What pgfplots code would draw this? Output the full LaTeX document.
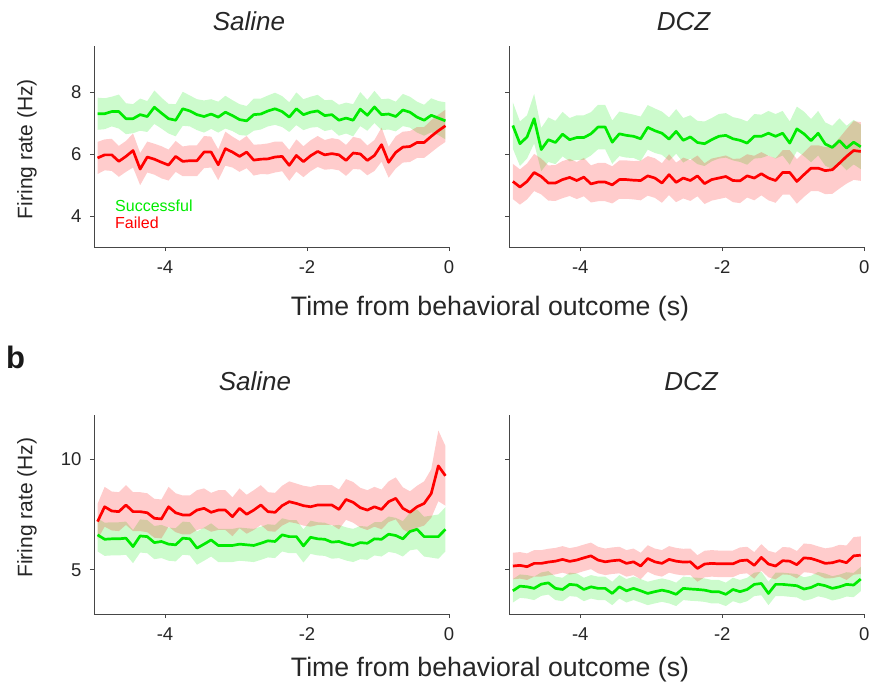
\documentclass[border=0pt]{standalone}
\usepackage{fontspec}
\setmainfont{Liberation Sans}
\usepackage{pgfplots}
\pgfplotsset{compat=1.18}
\usepackage{pgfplotstable}
\definecolor{sgreen}{RGB}{0,235,0}
\definecolor{fred}{RGB}{255,0,0}
\definecolor{axgray}{RGB}{70,70,70}

\pgfplotstableread{
x g gs r rs
-4.95 7.31 0.52 5.88 0.52
-4.85 7.31 0.50 5.98 0.50
-4.75 7.38 0.48 5.98 0.52
-4.65 7.38 0.55 5.77 0.50
-4.55 7.15 0.50 5.93 0.50
-4.45 7.15 0.47 6.12 0.55
-4.35 7.28 0.52 5.52 0.52
-4.25 7.22 0.50 5.91 0.50
-4.15 7.52 0.54 5.84 0.50
-4.05 7.33 0.50 5.74 0.52
-3.95 7.15 0.48 5.65 0.50
-3.85 7.10 0.52 5.93 0.50
-3.75 7.47 0.55 5.77 0.48
-3.65 7.40 0.50 5.79 0.50
-3.55 7.28 0.50 5.79 0.50
-3.45 7.22 0.52 6.07 0.52
-3.35 7.30 0.48 6.07 0.50
-3.25 7.20 0.50 5.66 0.50
-3.15 7.36 0.53 6.18 0.55
-3.05 7.25 0.50 6.07 0.50
-2.95 7.12 0.50 5.93 0.50
-2.85 7.08 0.48 6.07 0.52
-2.75 7.28 0.52 5.81 0.50
-2.65 7.30 0.50 5.84 0.48
-2.55 7.40 0.50 5.85 0.50
-2.45 7.47 0.52 5.91 0.50
-2.35 7.38 0.50 5.93 0.48
-2.25 7.20 0.48 5.64 0.50
-2.15 7.47 0.53 5.96 0.52
-2.05 7.28 0.50 5.76 0.50
-1.95 7.36 0.50 5.95 0.50
-1.85 7.40 0.52 6.09 0.50
-1.75 7.25 0.50 5.98 0.48
-1.65 7.28 0.48 6.02 0.50
-1.55 7.10 0.50 5.98 0.50
-1.45 7.17 0.50 5.80 0.50
-1.35 7.10 0.52 6.04 0.52
-1.25 7.46 0.55 6.01 0.50
-1.15 7.26 0.50 5.80 0.48
-1.05 7.53 0.52 5.96 0.50
-0.95 7.28 0.50 6.31 0.55
-0.85 7.30 0.50 5.74 0.50
-0.75 7.22 0.48 6.06 0.52
-0.65 7.43 0.52 6.23 0.50
-0.55 7.36 0.50 6.25 0.50
-0.45 7.20 0.50 6.38 0.50
-0.35 7.10 0.50 6.38 0.50
-0.25 7.26 0.55 6.58 0.52
-0.15 7.17 0.55 6.76 0.52
-0.05 7.08 0.60 6.92 0.52
}\tabTL

\pgfplotstableread{
x g gs r rs
-4.95 6.93 0.75 5.12 0.57
-4.85 6.34 0.72 4.94 0.57
-4.75 6.56 0.70 5.12 0.58
-4.65 7.15 0.80 5.41 0.60
-4.55 6.15 0.70 5.28 0.58
-4.45 6.47 0.72 5.07 0.57
-4.35 6.38 0.70 5.07 0.58
-4.25 6.65 0.72 5.18 0.60
-4.15 6.47 0.70 5.25 0.60
-4.05 6.54 0.72 5.15 0.60
-3.95 6.54 0.72 5.26 0.62
-3.85 6.66 0.70 5.04 0.60
-3.75 6.88 0.72 5.10 0.62
-3.65 6.88 0.72 5.10 0.62
-3.55 6.39 0.70 5.01 0.60
-3.45 6.66 0.72 5.18 0.62
-3.35 6.61 0.72 5.18 0.62
-3.25 6.58 0.70 5.16 0.62
-3.15 6.50 0.72 5.15 0.64
-3.05 6.87 0.72 5.30 0.64
-2.95 6.76 0.72 5.23 0.64
-2.85 6.68 0.70 5.07 0.64
-2.75 6.49 0.70 5.34 0.66
-2.65 6.74 0.72 5.09 0.64
-2.55 6.45 0.72 5.23 0.66
-2.45 6.56 0.70 5.15 0.66
-2.35 6.38 0.70 5.30 0.66
-2.25 6.34 0.72 5.05 0.66
-2.15 6.47 0.70 5.18 0.68
-2.05 6.58 0.72 5.23 0.68
-1.95 6.61 0.72 5.28 0.68
-1.85 6.50 0.70 5.15 0.70
-1.75 6.45 0.70 5.14 0.72
-1.65 6.36 0.70 5.30 0.70
-1.55 6.58 0.72 5.23 0.72
-1.45 6.58 0.70 5.37 0.70
-1.35 6.68 0.72 5.23 0.72
-1.25 6.58 0.72 5.15 0.72
-1.15 6.68 0.72 5.41 0.72
-1.05 6.36 0.70 5.41 0.72
-0.95 6.82 0.72 5.12 0.72
-0.85 6.66 0.72 5.34 0.72
-0.75 6.44 0.70 5.55 0.74
-0.65 6.68 0.72 5.55 0.74
-0.55 6.33 0.70 5.47 0.76
-0.45 6.22 0.70 5.50 0.78
-0.35 6.44 0.72 5.71 0.82
-0.25 6.20 0.72 5.93 0.88
-0.15 6.39 0.72 6.12 0.95
-0.05 6.24 0.72 6.09 0.95
}\tabTR

\pgfplotstableread{
x g gs r rs
-4.95 6.58 0.75 7.18 0.80
-4.85 6.38 0.75 7.85 0.90
-4.75 6.40 0.75 7.66 0.88
-4.65 6.40 0.75 7.63 0.88
-4.55 6.43 0.75 7.93 0.90
-4.45 6.05 0.75 7.63 0.88
-4.35 6.53 0.75 7.63 0.88
-4.25 6.50 0.75 7.58 0.88
-4.15 6.23 0.75 7.33 0.88
-4.05 6.28 0.75 7.30 0.88
-3.95 6.16 0.75 7.85 0.90
-3.85 6.13 0.75 7.58 0.88
-3.75 6.43 0.75 7.48 0.88
-3.65 6.40 0.75 7.48 0.88
-3.55 5.98 0.75 7.70 0.90
-3.45 6.16 0.75 7.78 0.90
-3.35 6.35 0.75 7.60 0.88
-3.25 6.10 0.75 7.70 0.90
-3.15 6.10 0.75 7.70 0.90
-3.05 6.10 0.75 7.40 0.88
-2.95 6.16 0.75 7.78 0.90
-2.85 6.13 0.75 7.51 0.88
-2.75 6.10 0.75 7.70 0.90
-2.65 6.20 0.75 7.93 0.90
-2.55 6.31 0.75 7.63 0.88
-2.45 6.28 0.75 7.60 0.88
-2.35 6.58 0.75 7.90 0.90
-2.25 6.50 0.75 8.08 0.92
-2.15 6.50 0.75 8.00 0.90
-2.05 6.08 0.75 7.90 0.90
-1.95 6.47 0.75 7.85 0.90
-1.85 6.40 0.75 7.93 0.90
-1.75 6.38 0.75 7.93 0.90
-1.65 6.25 0.75 7.93 0.90
-1.55 6.28 0.75 7.73 0.90
-1.45 6.17 0.75 8.18 0.92
-1.35 6.10 0.75 8.05 0.92
-1.25 6.23 0.75 7.81 0.90
-1.15 6.20 0.75 7.70 0.90
-1.05 6.40 0.75 7.85 0.90
-0.95 6.38 0.78 7.73 0.90
-0.85 6.61 0.80 8.08 0.92
-0.75 6.55 0.80 8.23 0.95
-0.65 6.40 0.80 7.78 0.95
-0.55 6.73 0.85 7.60 0.95
-0.45 6.83 0.90 7.85 0.95
-0.35 6.50 0.90 8.00 1.00
-0.25 6.50 0.95 8.45 1.10
-0.15 6.50 1.00 9.70 1.60
-0.05 6.83 1.00 9.25 1.35
}\tabBL

\pgfplotstableread{
x g gs r rs
-4.95 4.05 0.53 5.17 0.60
-4.85 4.26 0.53 5.20 0.60
-4.75 4.23 0.53 5.14 0.60
-4.65 4.16 0.53 5.29 0.60
-4.55 4.35 0.53 5.29 0.60
-4.45 4.41 0.53 5.35 0.60
-4.35 4.16 0.53 5.39 0.60
-4.25 4.11 0.53 5.47 0.60
-4.15 4.34 0.53 5.38 0.60
-4.05 4.31 0.53 5.44 0.60
-3.95 4.11 0.53 5.54 0.60
-3.85 4.23 0.53 5.63 0.60
-3.75 4.16 0.53 5.44 0.60
-3.65 4.16 0.53 5.36 0.60
-3.55 3.93 0.53 5.41 0.60
-3.45 4.23 0.53 5.44 0.60
-3.35 4.05 0.53 5.29 0.60
-3.25 4.16 0.53 5.36 0.60
-3.15 4.05 0.53 5.17 0.60
-3.05 3.93 0.53 5.51 0.60
-2.95 4.01 0.53 5.36 0.60
-2.85 4.08 0.53 5.29 0.60
-2.75 4.01 0.53 5.47 0.60
-2.65 3.89 0.53 5.39 0.60
-2.55 4.16 0.53 5.35 0.60
-2.45 4.13 0.53 5.36 0.60
-2.35 4.11 0.53 5.06 0.60
-2.25 4.08 0.53 5.26 0.60
-2.15 4.01 0.53 5.29 0.60
-2.05 4.01 0.53 5.27 0.60
-1.95 3.89 0.53 5.27 0.60
-1.85 4.11 0.53 5.27 0.60
-1.75 4.01 0.53 5.41 0.60
-1.65 4.11 0.53 5.44 0.60
-1.55 4.34 0.53 5.20 0.60
-1.45 4.38 0.53 5.56 0.60
-1.35 3.93 0.53 5.26 0.60
-1.25 4.34 0.53 5.17 0.60
-1.15 4.34 0.53 5.41 0.62
-1.05 4.31 0.53 5.39 0.62
-0.95 4.28 0.53 5.23 0.62
-0.85 4.13 0.53 5.54 0.65
-0.75 4.20 0.53 5.51 0.65
-0.65 4.35 0.55 5.41 0.65
-0.55 4.28 0.55 5.29 0.68
-0.45 4.16 0.55 5.32 0.70
-0.35 4.23 0.55 5.41 0.72
-0.25 4.34 0.55 5.32 0.78
-0.15 4.31 0.55 5.63 0.85
-0.05 4.58 0.55 5.66 0.85
}\tabBR

\pgfplotsset{
  panel/.style={
    scale only axis, anchor=south west,
    width=355pt,
    xmin=-5, xmax=0, xtick={-4,-2,0},
    axis lines*=left,
    axis line style={draw=axgray, line width=0.9pt},
    tick style={draw=axgray, line width=0.9pt},
    tick align=outside, major tick length=4pt,
    xtick pos=bottom, ytick pos=left,
    tick label style={font=\fontsize{18.5}{21}\selectfont, text=black!85},
    /pgf/number format/assume math mode=true,
    yticklabel shift=5pt, xticklabel shift=6pt,
  },
}
\newcommand\drawpanel[1]{%
  \addplot[draw=none, stack plots=y, forget plot] table[x=x, y expr=\thisrow{g}-\thisrow{gs}] {#1};
  \addplot[draw=none, fill=sgreen, fill opacity=0.2, stack plots=y, forget plot] table[x=x, y expr=2*\thisrow{gs}] {#1} \closedcycle;
  \addplot[draw=none, stack plots=y, forget plot] table[x=x, y expr=\thisrow{r}-\thisrow{rs}-\thisrow{g}-\thisrow{gs}] {#1};
  \addplot[draw=none, fill=fred, fill opacity=0.2, stack plots=y, forget plot] table[x=x, y expr=2*\thisrow{rs}] {#1} \closedcycle;
  \addplot[stack plots=false, sgreen, line width=2.7pt, line join=round] table[x=x, y=g] {#1};
  \addplot[stack plots=false, fred, line width=2.7pt, line join=round] table[x=x, y=r] {#1};
}

\begin{document}
\begin{tikzpicture}
\path[use as bounding box] (0pt,0pt) rectangle (871pt,-686pt);

\begin{axis}[panel, at={(94pt,-247pt)}, height=201pt, ymin=3, ymax=9.5, ytick={4,6,8}]
\drawpanel{\tabTL}
\end{axis}

\begin{axis}[panel, at={(509.3pt,-247pt)}, height=201pt, ymin=3, ymax=9.5, ytick={4,6,8}, yticklabels={}]
\drawpanel{\tabTR}
\end{axis}

\begin{axis}[panel, at={(94pt,-614pt)}, height=199pt, ymin=3, ymax=12, ytick={5,10}]
\drawpanel{\tabBL}
\end{axis}

\begin{axis}[panel, at={(509.3pt,-614pt)}, height=199pt, ymin=3, ymax=12, ytick={5,10}, yticklabels={}]
\drawpanel{\tabBR}
\end{axis}

\node[anchor=base, font=\fontsize{26}{30}\selectfont\itshape, text=black!85] at (249pt,-30pt) {Saline};
\node[anchor=base, font=\fontsize{26}{30}\selectfont\itshape, text=black!85] at (683.5pt,-30pt) {DCZ};
\node[anchor=base, font=\fontsize{26}{30}\selectfont\itshape, text=black!85] at (255pt,-390pt) {Saline};
\node[anchor=base, font=\fontsize{26}{30}\selectfont\itshape, text=black!85] at (691pt,-390pt) {DCZ};
\node[anchor=base west, inner sep=0pt, font=\fontsize{31}{34}\selectfont\bfseries, text=black!90] at (6pt,-368pt) {b};
\node[anchor=base, font=\fontsize{26.7}{30}\selectfont, text=black!85] at (490pt,-315.7pt) {Time from behavioral outcome (s)};
\node[anchor=base, font=\fontsize{26.7}{30}\selectfont, text=black!85] at (490pt,-676pt) {Time from behavioral outcome (s)};
\node[rotate=90, font=\fontsize{21}{24}\selectfont, text=black!85] at (27pt,-149pt) {Firing rate (Hz)};
\node[rotate=90, font=\fontsize{21}{24}\selectfont, text=black!85] at (27pt,-507.5pt) {Firing rate (Hz)};
\node[anchor=base west, inner sep=0pt, font=\fontsize{16}{18}\selectfont, text=sgreen] at (115pt,-211pt) {Successful};
\node[anchor=base west, inner sep=0pt, font=\fontsize{16}{18}\selectfont, text=fred] at (115pt,-228pt) {Failed};
\end{tikzpicture}
\end{document}
